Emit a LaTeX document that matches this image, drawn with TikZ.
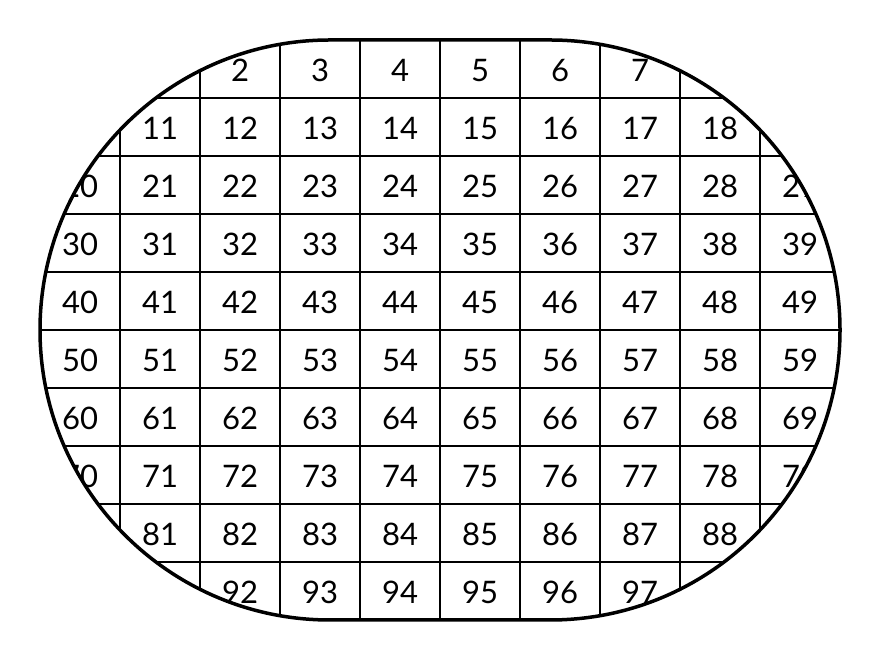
\documentclass[tikz,border=0pt]{standalone}
\usepackage{fontspec}
\setmainfont{Lato}

\begin{document}
\begin{tikzpicture}[x=1pt, y=1pt,
    cell/.style={draw, line width=2pt, minimum width=80, minimum height=58, inner sep=0pt},
    num/.style={anchor=base, inner sep=0pt, font=\fontsize{31}{36}\selectfont}]
      \def \n {10}
      \def \w {80}
      \def \h {58}
      \def \radius {290} % half the height of the grid

      \useasboundingbox (0,0) rectangle (880,660);
      \begin{scope}
        \clip (330,620) -- (550,620) arc (90:-90:\radius) -- (330,40) arc (270:90:\radius) -- cycle;
        \foreach \r in {0,...,9}
        {
          \foreach \c in {0,...,9}
          {
            \pgfmathtruncatemacro{\k}{\n*\r + \c}
            \node[cell](c\k) at ({40 + \w/2 + \w*\c}, {620 - \h/2 - \h*\r}) {};
            \node[num](t\k) at ([yshift=-13]c\k.center) {\k};
          }
        }
      \end{scope}
      \draw[line width=3.5pt] (330,620) -- (550,620) arc (90:-90:\radius) -- (330,40) arc (270:90:\radius) -- cycle;
    \end{tikzpicture}
\end{document}
